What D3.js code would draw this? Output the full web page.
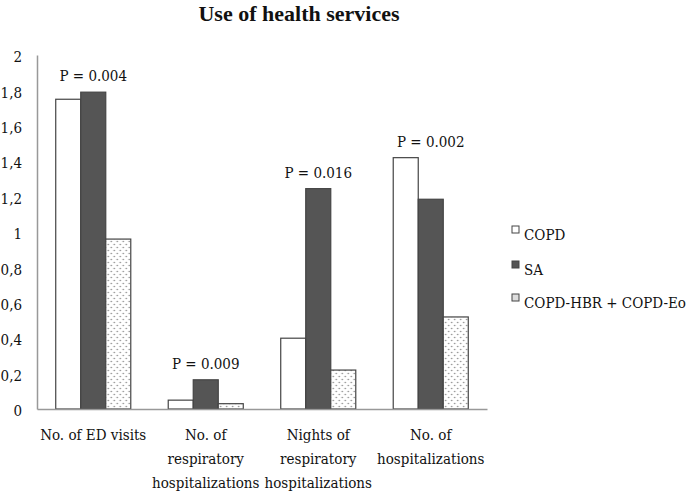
<!DOCTYPE html>
<html><head><meta charset="utf-8">
<script src="https://cdn.jsdelivr.net/npm/d3@7"></script>
<style>body{margin:0;background:#fff}
svg text{font-family:"DejaVu Serif Condensed","DejaVu Serif",serif}
svg text.title{font-family:"Liberation Serif","DejaVu Serif",serif;font-weight:bold}</style></head>
<body><svg id="c" width="697" height="496"></svg>
<script>
const categories = [["No. of ED visits"],["No. of","respiratory","hospitalizations"],["Nights of","respiratory","hospitalizations"],["No. of","hospitalizations"]];
const series = ["COPD","SA","COPD-HBR + COPD-Eo"];
const copd = [1.75, 0.05, 0.40, 1.42];
const sa = [1.79, 0.165, 1.245, 1.185];
const hbr = [0.96, 0.03, 0.22, 0.52];
const pLabels = ["P = 0.004","P = 0.009","P = 0.016","P = 0.002"];
const yTicks = [0,0.2,0.4,0.6,0.8,1,1.2,1.4,1.6,1.8,2];

const svg = d3.select("#c");
const defs = svg.append("defs");
const pat = defs.append("pattern").attr("id","dots").attr("patternUnits","userSpaceOnUse").attr("width",6).attr("height",6);
pat.append("rect").attr("width",6).attr("height",6).attr("fill","#fff");
pat.append("circle").attr("cx",1.5).attr("cy",1.5).attr("r",0.8).attr("fill","#888");
pat.append("circle").attr("cx",4.5).attr("cy",4.5).attr("r",0.8).attr("fill","#888");

const mLeft = 37, mRight = 487, mTop = 55, mBottom = 409;
const x0 = d3.scaleBand().domain(d3.range(categories.length)).range([mLeft,mRight]).paddingInner(0.333).paddingOuter(0.1665);
const x1 = d3.scaleBand().domain(d3.range(series.length)).range([0,x0.bandwidth()]);
const y = d3.scaleLinear().domain([0,2]).range([mBottom,mTop]);
const fills = ["#fff","#555","url(#dots)"];
const data = [copd, sa, hbr];
const fs = 15;

svg.append("text").attr("class","title").attr("x",299).attr("y",21).attr("text-anchor","middle")
  .attr("font-size",22).attr("fill","#111").text("Use of health services");

const ya = svg.append("g").attr("transform",`translate(${mLeft},0)`)
  .call(d3.axisLeft(y).tickValues(yTicks).tickSize(0).tickPadding(15).tickFormat(d=>String(d).replace(".",",")));
ya.attr("font-family",null).attr("font-size",null);
ya.select(".domain").attr("stroke","#999").attr("stroke-width",1.5);
ya.selectAll("text").attr("font-size",fs).attr("fill","#111").attr("dy","0.45em");

categories.forEach((c,i)=>{
  const g = svg.append("g").attr("transform",`translate(${x0(i)},0)`);
  series.forEach((s,j)=>{
    g.append("rect").attr("x",x1(j)).attr("y",y(data[j][i])).attr("width",x1.bandwidth()).attr("height",mBottom-y(data[j][i]))
      .attr("fill",fills[j]).attr("stroke","#444").attr("stroke-width",1.2);
  });
  const mx = d3.max(data, d=>d[i]);
  svg.append("text").attr("x",x0(i)+x0.bandwidth()/2).attr("y",y(mx)-11).attr("text-anchor","middle")
    .attr("font-size",fs).attr("fill","#111").text(pLabels[i]);
});

const xa = svg.append("g").attr("transform",`translate(0,${mBottom})`)
  .call(d3.axisBottom(x0).tickSize(0).tickFormat(""));
xa.select(".domain").attr("stroke","#999").attr("stroke-width",1.5);
categories.forEach((lines,i)=>{
  const t = svg.append("text").attr("text-anchor","middle").attr("font-size",fs).attr("fill","#111");
  lines.forEach((l,k)=>t.append("tspan").attr("x",x0(i)+x0.bandwidth()/2).attr("y",440+k*24).text(l));
});

const ly = [235,270,303];
series.forEach((s,j)=>{
  svg.append("rect").attr("x",512).attr("y",ly[j]-9).attr("width",7).attr("height",7)
    .attr("fill",j===2?"#ddd":fills[j]).attr("stroke","#444").attr("stroke-width",1);
  svg.append("text").attr("x",524).attr("y",ly[j]+5).attr("font-size",fs).attr("fill","#111").text(s);
});
</script></body></html>
